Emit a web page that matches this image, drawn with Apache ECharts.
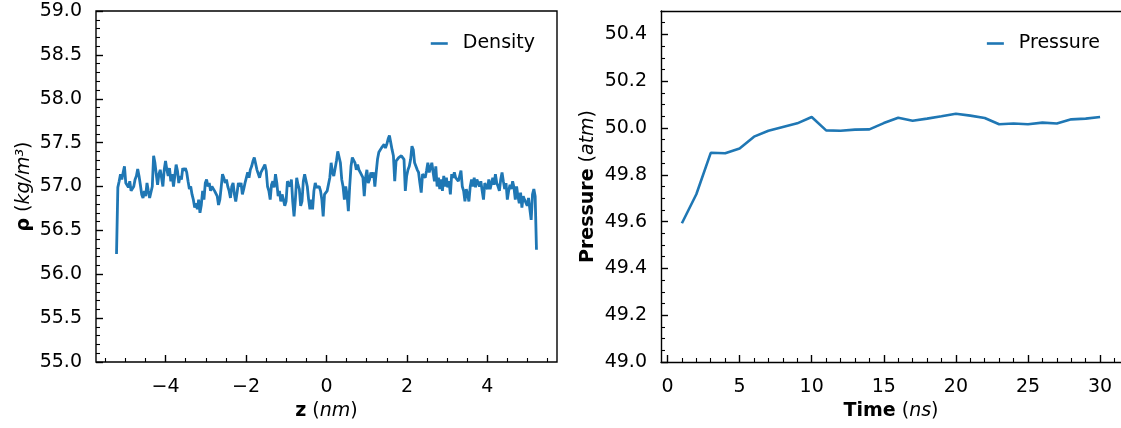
<!DOCTYPE html>
<html>
<head>
<meta charset="utf-8">
<script src="https://cdn.jsdelivr.net/npm/echarts@6/dist/echarts.min.js"></script>
<style>
  html, body { margin: 0; padding: 0; background: #fff; }
  #chart { width: 1121px; height: 428px; }
</style>
</head>
<body>
<div id="chart"></div>
<script>
// Density profile, sampled on a uniform z grid from zStart to zEnd
var zStart = -5.22, zEnd = 5.22;
var densityValues = [
  56.23,
  56.99,57.06,57.14,57.08,57.16,57.23,57.04,57.06,56.99,57.06,
  56.95,56.93,57.00,57.08,57.12,57.20,57.12,57.02,56.91,56.87,
  56.95,56.89,57.04,56.95,56.87,56.85,57.00,57.35,57.27,57.14,
  57.02,57.14,57.19,57.10,57.00,57.19,57.29,57.19,57.12,57.21,
  57.06,57.14,57.00,57.12,57.25,57.18,57.04,57.12,57.08,57.21,
  57.18,57.21,57.16,57.06,56.97,57.00,56.91,56.85,56.76,56.81,
  56.74,56.85,56.70,56.79,56.95,56.85,57.04,57.08,57.00,57.04,
  56.95,57.00,56.99,56.95,
  56.95,56.89,56.79,56.85,56.99,57.14,57.10,57.04,57.08,57.00,
  56.95,56.87,57.00,57.04,56.91,56.83,56.93,57.04,57.00,57.04,
  56.91,56.97,57.04,57.06,57.16,57.10,57.19,57.23,57.29,57.33,
  57.31,57.19,57.18,57.10,57.16,57.19,57.21,57.25,57.18,57.00,
  56.95,56.85,57.02,57.06,56.99,57.14,57.04,56.89,56.95,56.83,
  56.91,56.85,56.78,56.83,57.06,57.08,57.00,57.08,56.83,56.66,
  56.85,57.10,57.02,56.97,56.78,56.83,57.06,57.14,57.16,57.00,
  56.85,56.74,56.85,56.74,56.95,57.04,56.99,56.97,57.00,56.95,
  56.85,56.66,56.91,
  56.91,56.95,56.93,57.10,57.27,57.16,57.12,57.14,57.29,57.40,
  57.42,57.27,57.08,57.00,56.85,57.00,56.91,56.72,57.00,57.23,
  57.33,57.31,57.27,57.19,57.25,57.19,57.16,57.14,57.10,56.89,
  57.10,57.19,57.04,57.08,57.16,57.10,57.16,57.00,57.16,57.31,
  57.39,57.40,57.44,57.46,57.48,57.44,57.48,57.54,57.58,57.50,
  57.42,57.35,57.06,57.29,57.27,57.33,57.31,57.35,57.37,57.31,
  56.95,57.12,57.19,57.23,57.31,57.46,57.42,57.27,57.25,57.19,
  57.16,57.04,56.93,57.14,57.16,57.10,57.18,57.27,57.16,57.14,
  57.27,57.16,57.06,
  57.23,57.00,57.10,56.97,57.08,56.95,57.12,57.00,57.10,56.99,
  57.06,56.91,57.14,57.10,57.16,57.10,57.12,57.06,57.12,57.18,
  57.00,56.95,56.83,56.97,56.91,56.83,57.00,57.08,57.00,57.10,
  56.99,57.08,57.10,57.00,57.06,56.95,56.85,57.04,57.00,56.97,
  57.08,56.97,56.95,57.10,57.02,57.14,57.04,57.00,56.95,57.08,
  57.16,57.06,56.97,57.04,56.85,56.95,57.02,56.97,57.06,56.99,
  56.85,57.00,56.89,56.81,56.93,56.76,56.89,56.85,56.83,56.78,
  56.87,56.74,56.62,56.91,56.97,56.89,
  56.28
];

// Pressure vs time
var timeNs = [1,2,3,4,5,6,7,8,9,10,11,12,13,14,15,16,17,18,19,20,21,22,23,24,25,26,27,28,29,30];
var pressureValues = [
  49.593,49.717,49.894,49.892,49.912,49.963,49.988,50.004,50.020,50.047,
  49.990,49.988,49.993,49.994,50.021,50.044,50.031,50.040,50.050,50.061,
  50.053,50.043,50.016,50.019,50.016,50.023,50.019,50.037,50.040,50.047
];

// Tick labels
var zTicks = [-4, -2, 0, 2, 4];
var rhoTicks = [55, 55.5, 56, 56.5, 57, 57.5, 58, 58.5, 59];
var timeTicks = [0, 5, 10, 15, 20, 25, 30];
var pTicks = [49, 49.2, 49.4, 49.6, 49.8, 50, 50.2, 50.4];

var FONT = 'DejaVu Sans';
var BLUE = '#1f77b4';

function minorValues(from, to, step, majors) {
  var out = [];
  var n = Math.round((to - from) / step);
  for (var i = 0; i <= n; i++) {
    var v = +(from + i * step).toFixed(4);
    var isMajor = majors.some(function (m) { return Math.abs(m - v) < 1e-6; });
    if (!isMajor) out.push(v);
  }
  return out;
}

// Major axis: labels + long inward ticks
function majorAxis(grid, pos, min, max, ticks, fmt, name, nameGap, showLine) {
  var ax = {
    type: 'value', gridIndex: grid, position: pos, min: min, max: max,
    axisLine: { show: !!showLine, onZero: false, lineStyle: { color: '#000', width: 1.4 } },
    splitLine: { show: false },
    axisTick: { show: true, inside: true, length: 7, customValues: ticks,
                lineStyle: { color: '#000', width: 1.4 } },
    axisLabel: { show: true, customValues: ticks, formatter: fmt,
                 margin: pos === 'bottom' ? 16 : 14,
                 color: '#000', fontFamily: FONT, fontSize: 19 },
    name: name, nameLocation: 'middle', nameGap: nameGap,
    nameTextStyle: {
      color: '#000', fontFamily: FONT, fontSize: 19,
      rich: {
        b: { fontWeight: 'bold', fontFamily: FONT, fontSize: 19, color: '#000' },
        i: { fontStyle: 'italic', fontFamily: FONT, fontSize: 19, color: '#000' },
        n: { fontFamily: FONT, fontSize: 19, color: '#000' }
      }
    }
  };
  if (pos === 'left') ax.nameRotate = 90;
  return ax;
}

// Minor axis: short inward ticks only
function minorAxis(grid, pos, min, max, ticks) {
  return {
    type: 'value', gridIndex: grid, position: pos, min: min, max: max,
    axisLine: { show: false, onZero: false },
    splitLine: { show: false },
    axisTick: { show: true, inside: true, length: 4, customValues: ticks,
                lineStyle: { color: '#000', width: 1.1 } },
    axisLabel: { show: false }
  };
}

var minus = function (v) { return v < 0 ? '\u2212' + Math.abs(v) : String(v); };
var oneDec = function (v) { return Number(v).toFixed(1); };
var intFmt = function (v) { return String(Math.round(v)); };

var densityData = densityValues.map(function (v, i) {
  var z = zStart + i * (zEnd - zStart) / (densityValues.length - 1);
  return [z, v];
});
var pressureData = timeNs.map(function (t, i) { return [t, pressureValues[i]]; });

var chart = echarts.init(document.getElementById('chart'), null, { renderer: 'canvas' });

var legendText = { fontFamily: FONT, fontSize: 19, color: '#000', padding: [0, 0, 0, 10] };

chart.setOption({
  animation: false,
  backgroundColor: '#fff',
  textStyle: { fontFamily: FONT },
  grid: [
    { left: 96, right: 564, top: 11, bottom: 66, show: true, borderColor: '#000', borderWidth: 1.4, backgroundColor: 'transparent' },
    // right panel runs off the page edge, so only left/bottom/top spines are drawn
    { left: 661, right: 0, top: 11, bottom: 66, show: false }
  ],
  xAxis: [
    majorAxis(0, 'bottom', -5.73, 5.73, zTicks, minus, '{b|z} {n|(}{i|nm}{n|)}', 40),
    minorAxis(0, 'bottom', -5.73, 5.73, minorValues(-5.5, 5.5, 0.5, zTicks)),
    majorAxis(1, 'bottom', -0.45, 31.45, timeTicks, intFmt, '{b|Time} {n|(}{i|ns}{n|)}', 40, true),
    minorAxis(1, 'bottom', -0.45, 31.45, minorValues(0, 31, 1, timeTicks)),
    {
      type: 'value', gridIndex: 1, position: 'top', min: -0.45, max: 31.45,
      axisLine: { show: true, onZero: false, lineStyle: { color: '#000', width: 1.4 } },
      axisTick: { show: false }, axisLabel: { show: false }, splitLine: { show: false }
    }
  ],
  yAxis: [
    majorAxis(0, 'left', 55, 59, rhoTicks, oneDec, '{b|\u03c1} {n|(}{i|kg/m\u00b3}{n|)}', 62),
    minorAxis(0, 'left', 55, 59, minorValues(55, 59, 0.1, rhoTicks)),
    majorAxis(1, 'left', 49, 50.5, pTicks, oneDec, '{b|Pressure} {n|(}{i|atm}{n|)}', 63, true),
    minorAxis(1, 'left', 49, 50.5, minorValues(49, 50.5, 0.05, pTicks))
  ],
  legend: [
    { data: ['Density'], right: 581, top: 29, icon: 'rect', itemWidth: 17, itemHeight: 2.6,
      textStyle: legendText },
    { data: ['Pressure'], right: 16, top: 29, icon: 'rect', itemWidth: 17, itemHeight: 2.6,
      textStyle: legendText }
  ],
  series: [
    {
      name: 'Density', type: 'line', xAxisIndex: 0, yAxisIndex: 0,
      data: densityData, symbol: 'none', showSymbol: false,
      lineStyle: { color: BLUE, width: 2.8 }, itemStyle: { color: BLUE }
    },
    {
      name: 'Pressure', type: 'line', xAxisIndex: 2, yAxisIndex: 2,
      data: pressureData, symbol: 'none', showSymbol: false,
      lineStyle: { color: BLUE, width: 2.6 }, itemStyle: { color: BLUE }
    }
  ]
});
</script>
</body>
</html>
